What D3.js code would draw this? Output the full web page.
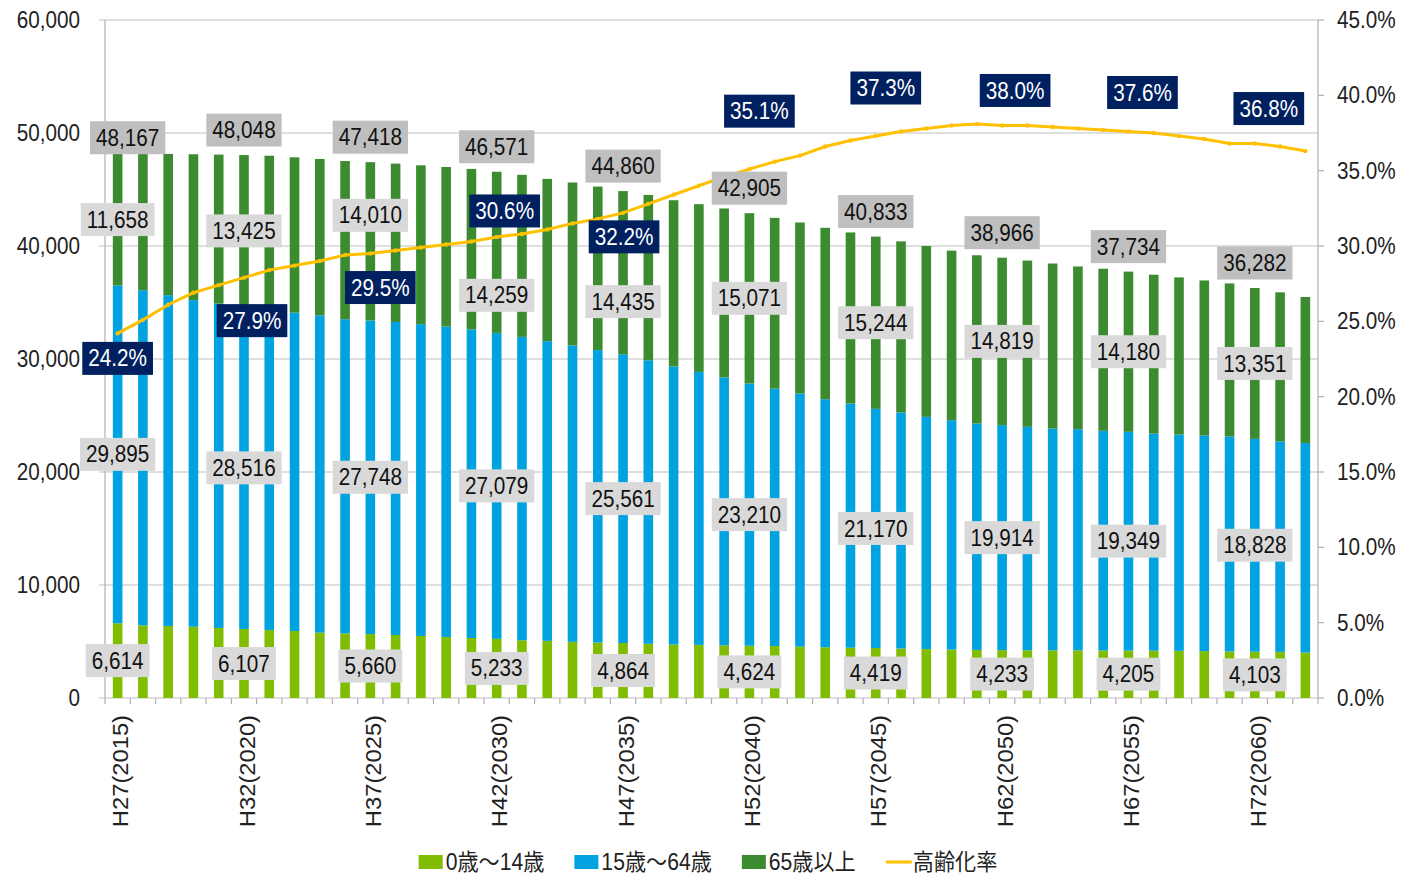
<!DOCTYPE html>
<html>
<head>
<meta charset="utf-8">
<script src="https://cdn.jsdelivr.net/npm/d3@7"></script>
<style>
  body { margin: 0; background: #fff; }
  svg { display: block; font-family: "Liberation Sans", Arial, "Noto Sans CJK JP", sans-serif; }
</style>
</head>
<body>
<svg id="chart"></svg>
<script>
// ---- data ----
const years = d3.range(2015, 2063);
const tickYears = [2015, 2020, 2025, 2030, 2035, 2040, 2045, 2050, 2055, 2060];
const tickLabels = ["H27(2015)", "H32(2020)", "H37(2025)", "H42(2030)", "H47(2035)",
                    "H52(2040)", "H57(2045)", "H62(2050)", "H67(2055)", "H72(2060)"];
const seriesNames = ["0歳～14歳", "15歳～64歳", "65歳以上"];
const lineName = "高齢化率";

// 0-14
const young = [6614, 6430, 6370, 6310, 6200, 6107, 6020, 5930, 5790, 5720,
               5660, 5575, 5490, 5400, 5310, 5233, 5110, 5060, 4970, 4910,
               4864, 4800, 4740, 4700, 4660, 4624, 4600, 4540, 4490, 4450,
               4419, 4380, 4330, 4290, 4255, 4233, 4225, 4220, 4215, 4210,
               4205, 4190, 4175, 4150, 4120, 4103, 4080, 4020];
// 15-64
const working = [29895, 29660, 29280, 28900, 28700, 28516, 28340, 28170, 28070, 27800,
                 27748, 27705, 27590, 27470, 27320, 27079, 26850, 26520, 26230, 25880,
                 25561, 25090, 24600, 24160, 23710, 23210, 22780, 22400, 21950, 21610,
                 21170, 20890, 20550, 20300, 20035, 19914, 19775, 19630, 19575, 19435,
                 19349, 19210, 19135, 19090, 19020, 18828, 18620, 18540];
// 65+
const elderly = [11658, 12070, 12500, 12910, 13190, 13425, 13630, 13750, 13840, 14000,
                 14010, 14010, 14060, 14120, 14190, 14259, 14340, 14360, 14420, 14470,
                 14435, 14630, 14710, 14840, 14950, 15071, 15110, 15140, 15170, 15140,
                 15244, 15140, 15120, 15000, 14890, 14819, 14710, 14600, 14400, 14345,
                 14180, 14060, 13910, 13710, 13550, 13351, 13200, 12930];
// aging rate, %
const agingRate = [24.2, 25.1, 26.1, 26.9, 27.4, 27.9, 28.4, 28.7, 29.0, 29.4,
                   29.5, 29.7, 29.9, 30.1, 30.3, 30.6, 30.8, 31.1, 31.5, 31.8,
                   32.2, 32.8, 33.4, 34.0, 34.6, 35.1, 35.6, 36.0, 36.6, 37.0,
                   37.3, 37.6, 37.8, 38.0, 38.1, 38.0, 38.0, 37.9, 37.8, 37.7,
                   37.6, 37.5, 37.3, 37.1, 36.8, 36.8, 36.6, 36.3];

// label placement tweaks (px), the way they sit in the reference
const totalLabelNudge = { 2015: [10, 9] };
const elderlyLabelNudge = { 2025: -26, 2030: 43, 2035: 29 };
const rateLabelOffset = {
    2015: [0, 25], 2020: [8, 43], 2025: [10, 34], 2030: [8, -26], 2035: [1, 24],
    2040: [10, -58], 2045: [10, -48], 2050: [13, -35], 2055: [14, -39], 2060: [14, -35]
};

class PopulationChart {

    constructor(_config) {
        this.config = {
            parentElement: _config.parentElement,
            containerWidth: 1401,
            containerHeight: 876,
            margin: { top: 20, right: 83, bottom: 178, left: 105 },
            colors: ['#80bc00', '#00a2e0', '#3d8b30'],
            lineColor: '#ffc000',
            navy: '#002060'
        };
        this.initVis();
    }

    initVis() {
        let vis = this;
        const c = vis.config;

        vis.svg = d3.select(c.parentElement)
            .attr('width', c.containerWidth)
            .attr('height', c.containerHeight);

        vis.width = c.containerWidth - c.margin.left - c.margin.right;
        vis.height = c.containerHeight - c.margin.top - c.margin.bottom;

        vis.chart = vis.svg.append('g')
            .attr('transform', `translate(${c.margin.left},${c.margin.top})`);

        vis.x = d3.scaleBand()
            .domain(years)
            .range([0, vis.width])
            .paddingInner(0.62)
            .paddingOuter(0.31);

        vis.y = d3.scaleLinear().domain([0, 60000]).range([vis.height, 0]);
        vis.yRate = d3.scaleLinear().domain([0, 45]).range([vis.height, 0]);

        vis.rows = years.map((yr, i) => ({
            year: yr, young: young[i], working: working[i], elderly: elderly[i], rate: agingRate[i]
        }));
        vis.stack = d3.stack().keys(['young', 'working', 'elderly'])(vis.rows);

        vis.renderVis();
    }

    // text with a box behind it, slightly narrowed like the source font
    boxLabel(parent, x, y, txt, fill, color) {
        const g = parent.append('g').attr('transform', `translate(${x},${y})`);
        const rect = g.append('rect');
        const t = g.append('text')
            .attr('transform', 'scale(0.9,1)')
            .attr('text-anchor', 'middle')
            .attr('dy', '0.35em')
            .attr('font-size', 23)
            .attr('fill', color)
            .text(txt);
        const w = t.node().getComputedTextLength() * 0.9;
        rect.attr('x', -w / 2 - 6).attr('y', -16.5)
            .attr('width', w + 12).attr('height', 33)
            .attr('fill', fill);
    }

    renderVis() {
        let vis = this;
        const c = vis.config;
        const fmt = d3.format(',');
        const cx = yr => vis.x(yr) + vis.x.bandwidth() / 2;

        // gridlines + left ticks
        const yTicks = d3.range(0, 60001, 10000);
        vis.chart.append('g').selectAll('line')
            .data(yTicks)
            .join('line')
            .attr('x1', -6).attr('x2', vis.width)
            .attr('y1', d => vis.y(d)).attr('y2', d => vis.y(d))
            .attr('stroke', '#c0c0c0').attr('stroke-width', 1.2);

        // axis lines
        vis.chart.append('line').attr('x1', 0).attr('x2', 0).attr('y1', 0).attr('y2', vis.height)
            .attr('stroke', '#b0b0b0').attr('stroke-width', 1.2);
        vis.chart.append('line').attr('x1', vis.width).attr('x2', vis.width).attr('y1', 0).attr('y2', vis.height)
            .attr('stroke', '#b0b0b0').attr('stroke-width', 1.2);

        // right ticks
        const rTicks = d3.range(0, 46, 5);
        vis.chart.append('g').selectAll('line')
            .data(rTicks)
            .join('line')
            .attr('x1', vis.width).attr('x2', vis.width + 6)
            .attr('y1', d => vis.yRate(d)).attr('y2', d => vis.yRate(d))
            .attr('stroke', '#b0b0b0').attr('stroke-width', 1.2);

        // bottom ticks at band edges
        vis.chart.append('g').selectAll('line')
            .data(d3.range(years.length + 1))
            .join('line')
            .attr('x1', i => i * vis.x.step()).attr('x2', i => i * vis.x.step())
            .attr('y1', vis.height).attr('y2', vis.height + 6)
            .attr('stroke', '#b0b0b0').attr('stroke-width', 1.2);

        // left tick labels
        vis.chart.append('g').selectAll('g')
            .data(yTicks)
            .join('g')
            .attr('transform', d => `translate(-25,${vis.y(d)})`)
            .append('text')
            .attr('transform', 'scale(0.9,1)')
            .attr('text-anchor', 'end')
            .attr('dy', '0.35em')
            .attr('font-size', 23)
            .attr('fill', '#222')
            .text(d => fmt(d));

        // right tick labels
        vis.chart.append('g').selectAll('g')
            .data(rTicks)
            .join('g')
            .attr('transform', d => `translate(${vis.width + 19},${vis.yRate(d)})`)
            .append('text')
            .attr('transform', 'scale(0.9,1)')
            .attr('dy', '0.35em')
            .attr('font-size', 23)
            .attr('fill', '#222')
            .text(d => d.toFixed(1) + '%');

        // x labels, rotated
        vis.chart.append('g').selectAll('g')
            .data(tickYears)
            .join('g')
            .attr('transform', d => `translate(${cx(d) + 3},${vis.height + 17}) rotate(-90)`)
            .append('text')
            .attr('transform', 'scale(1.08,1)')
            .attr('text-anchor', 'end')
            .attr('dy', '0.35em')
            .attr('font-size', 22)
            .attr('fill', '#222')
            .text((d, i) => tickLabels[i]);

        // stacked bars
        vis.chart.append('g').selectAll('g')
            .data(vis.stack)
            .join('g')
            .attr('fill', (d, i) => c.colors[i])
            .selectAll('rect')
            .data(d => d)
            .join('rect')
            .attr('x', d => vis.x(d.data.year))
            .attr('width', vis.x.bandwidth())
            .attr('y', d => vis.y(d[1]))
            .attr('height', d => vis.y(d[0]) - vis.y(d[1]));

        // aging rate line
        const line = d3.line()
            .x(d => cx(d.year))
            .y(d => vis.yRate(d.rate));
        vis.chart.append('path')
            .datum(vis.rows)
            .attr('d', line)
            .attr('fill', 'none')
            .attr('stroke', c.lineColor)
            .attr('stroke-width', 3);
        vis.chart.append('g').selectAll('circle')
            .data(vis.rows)
            .join('circle')
            .attr('cx', d => cx(d.year))
            .attr('cy', d => vis.yRate(d.rate))
            .attr('r', 2.2)
            .attr('fill', c.lineColor);

        // data labels every 5 years
        const labels = vis.chart.append('g');
        const labelled = vis.rows.filter(d => tickYears.includes(d.year));
        labelled.forEach(d => {
            const x = cx(d.year);
            const y0 = vis.y(d.young);
            const y1 = vis.y(d.young + d.working);
            const y2 = vis.y(d.young + d.working + d.elderly);
            vis.boxLabel(labels, x, (vis.y(0) + y0) / 2, fmt(d.young), '#d9d9d9', '#111');
            vis.boxLabel(labels, x, (y0 + y1) / 2, fmt(d.working), '#d9d9d9', '#111');
            vis.boxLabel(labels, x, (y1 + y2) / 2 + (elderlyLabelNudge[d.year] || 0),
                fmt(d.elderly), '#d9d9d9', '#111');
            const tn = totalLabelNudge[d.year] || [0, 0];
            vis.boxLabel(labels, x + tn[0], y2 - 25 + tn[1],
                fmt(d.young + d.working + d.elderly), '#bfbfbf', '#111');
            const ro = rateLabelOffset[d.year] || [0, -30];
            vis.boxLabel(labels, x + ro[0], vis.yRate(d.rate) + ro[1],
                d.rate.toFixed(1) + '%', c.navy, '#fff');
        });

        // legend
        const legend = vis.svg.append('g');
        const items = seriesNames.map((n, i) => ({ name: n, color: c.colors[i], type: 'rect' }))
            .concat([{ name: lineName, color: c.lineColor, type: 'line' }]);
        let cursor = 0;
        items.forEach(it => {
            const g = legend.append('g').attr('transform', `translate(${cursor},0)`);
            if (it.type === 'rect') {
                g.append('rect').attr('x', 0).attr('y', -7).attr('width', 24).attr('height', 14).attr('fill', it.color);
            } else {
                g.append('line').attr('x1', 0).attr('x2', 26).attr('y1', 0).attr('y2', 0)
                    .attr('stroke', it.color).attr('stroke-width', 3);
            }
            const t = g.append('g').attr('transform', 'translate(27,0)')
                .append('text')
                .attr('transform', 'scale(0.92,1)')
                .attr('dy', '0.35em')
                .attr('font-size', 23)
                .attr('fill', '#222')
                .text(it.name);
            cursor += 27 + t.node().getComputedTextLength() * 0.92 + 30;
        });
        const legendW = cursor - 30;
        legend.attr('transform', `translate(${708 - legendW / 2},862)`);
    }
}

new PopulationChart({ parentElement: '#chart' });
</script>
</body>
</html>
